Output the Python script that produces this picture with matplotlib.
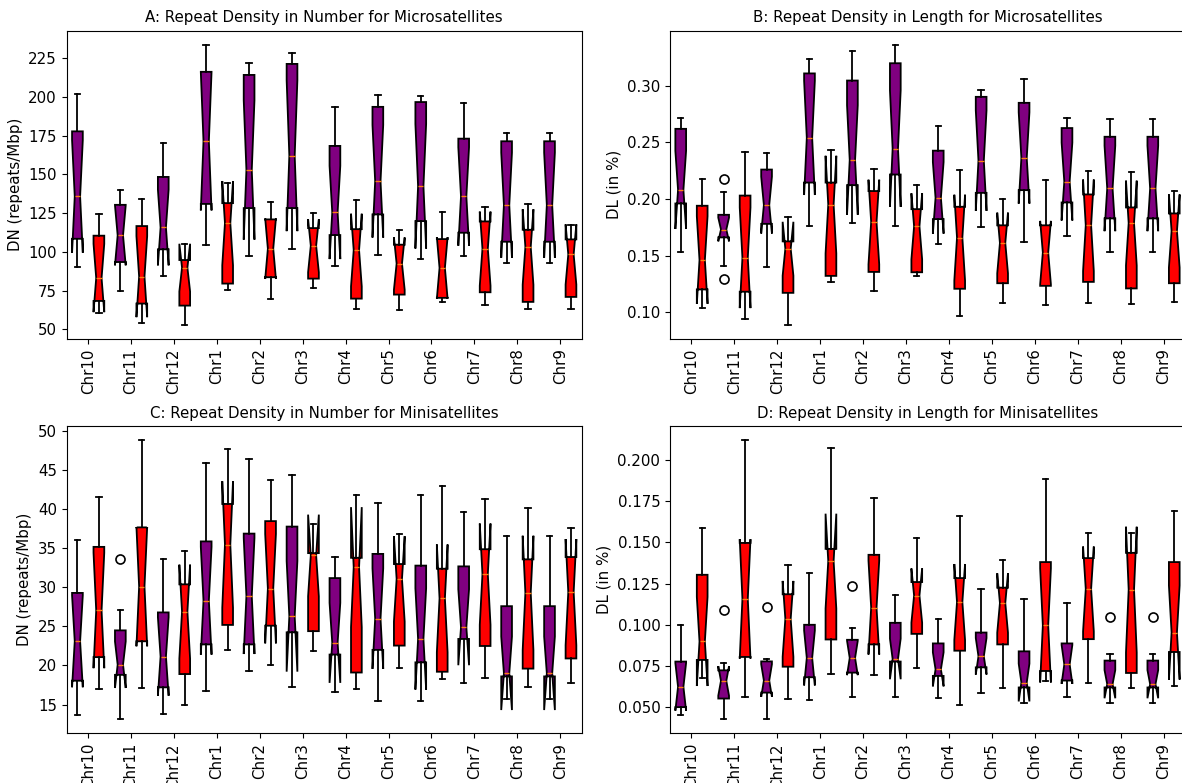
import numpy as np
import matplotlib
matplotlib.use("Agg")
import matplotlib.pyplot as plt

plt.rcParams["font.size"] = 10.8

chroms = ["Chr10", "Chr11", "Chr12", "Chr1", "Chr2", "Chr3",
          "Chr4", "Chr5", "Chr6", "Chr7", "Chr8", "Chr9"]

# sample size behind each box (used for the notch width, as matplotlib does)
n_obs = 9

# each row: (whislo, q1, med, q3, whishi)
a_purple = [(90.3, 108.5, 135.8, 177.8, 201.8), (74.7, 93.5, 110.7, 130.4, 140.1),
            (84.3, 101.7, 115.8, 148.4, 170.1), (104.2, 131.0, 171.4, 216.2, 233.7),
            (97.4, 128.3, 152.9, 214.2, 222.0), (102.1, 128.3, 162.1, 221.3, 228.2),
            (91.0, 110.9, 125.5, 168.4, 193.2), (98.2, 124.2, 145.6, 193.6, 201.2),
            (95.5, 119.9, 142.4, 196.7, 200.3), (97.4, 112.4, 135.8, 173.1, 196.0),
            (92.7, 106.6, 130.2, 171.4, 176.5), (92.7, 106.6, 130.2, 171.4, 176.5)]
a_red = [(60.9, 68.4, 83.2, 110.5, 124.6), (54.3, 66.7, 84.1, 116.7, 134.0),
         (53.2, 65.4, 89.9, 94.8, 104.9), (75.3, 79.6, 118.6, 131.5, 144.3),
         (69.5, 83.7, 102.1, 121.0, 132.1), (77.0, 82.8, 104.0, 115.4, 125.0),
         (62.9, 69.9, 101.2, 114.7, 133.8), (62.4, 72.5, 92.5, 104.7, 114.3),
         (67.8, 70.4, 89.7, 108.3, 125.9), (65.6, 74.0, 102.1, 119.7, 128.9),
         (62.9, 67.8, 103.2, 114.3, 131.0), (63.1, 71.0, 98.4, 108.1, 117.7)]

b_purple = [(0.153, 0.196, 0.208, 0.262, 0.272), (0.141, 0.166, 0.173, 0.186, 0.206),
            (0.1397, 0.178, 0.1946, 0.226, 0.241), (0.1758, 0.2145, 0.254, 0.311, 0.324),
            (0.179, 0.2122, 0.2345, 0.3047, 0.331), (0.1764, 0.2216, 0.2445, 0.320, 0.3364),
            (0.160, 0.1822, 0.201, 0.2427, 0.2648), (0.1749, 0.2054, 0.2339, 0.2903, 0.2962),
            (0.162, 0.2078, 0.2363, 0.285, 0.3059), (0.167, 0.1969, 0.2154, 0.2627, 0.2712),
            (0.1535, 0.1828, 0.2093, 0.255, 0.2706), (0.1535, 0.1828, 0.2093, 0.255, 0.2706)]
b_red = [(0.104, 0.120, 0.146, 0.194, 0.218), (0.0935, 0.118, 0.148, 0.203, 0.2415),
         (0.089, 0.117, 0.156, 0.1625, 0.184), (0.127, 0.132, 0.195, 0.2145, 0.2433),
         (0.1188, 0.1355, 0.1796, 0.207, 0.2263), (0.1323, 0.1352, 0.1758, 0.191, 0.2122),
         (0.0965, 0.1206, 0.1658, 0.1931, 0.2257), (0.1076, 0.1255, 0.1611, 0.1767, 0.2004),
         (0.1065, 0.1232, 0.1526, 0.1767, 0.2166), (0.1076, 0.1267, 0.1767, 0.204, 0.2251),
         (0.1068, 0.1209, 0.1787, 0.1925, 0.2236), (0.1091, 0.1255, 0.1717, 0.1872, 0.2066)]
b_purple_fliers = {1: [0.2175, 0.129]}

c_purple = [(13.6, 18.05, 23.1, 29.3, 36.1), (13.1, 18.8, 20.1, 24.5, 27.1),
            (13.8, 17.2, 21.15, 26.8, 33.6), (16.7, 22.7, 28.3, 35.9, 45.9),
            (19.3, 22.7, 28.9, 36.9, 46.5), (17.2, 24.25, 26.3, 37.8, 44.4),
            (16.6, 21.4, 22.9, 31.2, 33.9), (15.5, 22.0, 26.0, 34.3, 40.8),
            (15.5, 20.4, 23.4, 32.8, 41.8), (17.8, 23.4, 24.9, 32.7, 39.7),
            (15.7, 18.6, 19.0, 27.6, 36.6), (15.7, 18.6, 19.0, 27.6, 36.6)]
c_red = [(17.04, 21.07, 27.05, 35.2, 41.6), (17.1, 23.1, 30.1, 37.7, 48.9),
         (15.0, 18.9, 26.9, 30.4, 34.7), (22.0, 25.2, 35.5, 40.7, 47.8),
         (20.0, 25.1, 29.85, 38.5, 43.8), (21.8, 24.4, 34.1, 34.4, 38.1),
         (17.0, 19.1, 32.6, 33.8, 41.9), (19.7, 22.55, 31.1, 33.0, 36.8),
         (18.3, 19.2, 28.6, 32.4, 43.0), (18.4, 22.5, 31.7, 34.9, 41.3),
         (17.2, 19.6, 29.3, 33.6, 40.2), (17.7, 20.9, 29.4, 33.9, 37.65)]
c_purple_fliers = {1: [33.6]}

d_purple = [(0.0456, 0.0502, 0.0625, 0.0778, 0.0999), (0.0432, 0.0554, 0.0661, 0.0725, 0.0767),
            (0.0428, 0.059, 0.0663, 0.0779, 0.0792), (0.0546, 0.0683, 0.080, 0.1001, 0.1312),
            (0.0564, 0.0711, 0.080, 0.091, 0.0979), (0.0566, 0.0778, 0.0794, 0.1013, 0.1182),
            (0.0556, 0.0691, 0.0731, 0.0888, 0.1039), (0.0586, 0.0743, 0.081, 0.0954, 0.122),
            (0.0526, 0.0621, 0.0651, 0.084, 0.1158), (0.0566, 0.0663, 0.0761, 0.0888, 0.1133),
            (0.0526, 0.0621, 0.0641, 0.0784, 0.0824), (0.0526, 0.0621, 0.0641, 0.0784, 0.0824)]
d_red = [(0.0681, 0.0788, 0.090, 0.1304, 0.1586), (0.0566, 0.0806, 0.1158, 0.1497, 0.2121),
         (0.0552, 0.0747, 0.1037, 0.1186, 0.1365), (0.0701, 0.0912, 0.1387, 0.1461, 0.2075),
         (0.0697, 0.0882, 0.1105, 0.1425, 0.1769), (0.0737, 0.0946, 0.1178, 0.126, 0.1528),
         (0.0512, 0.0844, 0.1139, 0.1284, 0.1658), (0.0617, 0.0882, 0.1133, 0.1226, 0.1393),
         (0.0661, 0.0721, 0.0997, 0.1381, 0.1885), (0.0647, 0.0914, 0.1218, 0.1405, 0.156),
         (0.0617, 0.0709, 0.1214, 0.1437, 0.1558), (0.0631, 0.0836, 0.0954, 0.1381, 0.1692)]
d_purple_fliers = {1: [0.1091], 2: [0.1111], 4: [0.1236], 10: [0.1047], 11: [0.1047]}


def make_stats(rows, fliers=None):
    fliers = fliers or {}
    stats = []
    for i, (lo, q1, med, q3, hi) in enumerate(rows):
        half = 1.57 * (q3 - q1) / np.sqrt(n_obs)
        stats.append(dict(whislo=lo, q1=q1, med=med, q3=q3, whishi=hi,
                          cilo=med - half, cihi=med + half,
                          fliers=fliers.get(i, [])))
    return stats


def draw_panel(ax, purple_rows, red_rows, title, ylabel, purple_fliers=None):
    ticks = np.arange(len(chroms)) * 2.0
    for rows, fl, offset, color in [(purple_rows, purple_fliers, -0.5, "purple"),
                                    (red_rows, None, 0.5, "red")]:
        ax.bxp(make_stats(rows, fl), positions=ticks + offset, widths=0.5,
               shownotches=True, patch_artist=True, manage_ticks=False,
               boxprops=dict(facecolor=color, edgecolor="black", linewidth=1.3),
               whiskerprops=dict(linewidth=1.3), capprops=dict(linewidth=1.3),
               flierprops=dict(markersize=6.5, markeredgewidth=1.2))
    ax.set_xticks(ticks)
    ax.set_xticklabels(chroms, rotation=90)
    ax.set_xlim(-1, 23)
    ax.set_title(title, fontsize=10.8)
    ax.set_ylabel(ylabel)


W, H = 1182, 783
fig = plt.figure(figsize=(W / 100, H / 100), dpi=100)


def rect(left, top, width, height):
    return [left / W, (H - top - height) / H, width / W, height / H]


ax_a = fig.add_axes(rect(66.7, 30.7, 515, 307.8))
ax_b = fig.add_axes(rect(670, 30.7, 515, 307.8))
ax_c = fig.add_axes(rect(66.7, 426, 515, 307.3))
ax_d = fig.add_axes(rect(670, 426, 515, 307.3))

draw_panel(ax_a, a_purple, a_red, "A: Repeat Density in Number for Microsatellites",
           "DN (repeats/Mbp)")
draw_panel(ax_b, b_purple, b_red, "B: Repeat Density in Length for Microsatellites",
           "DL (in %)", b_purple_fliers)
draw_panel(ax_c, c_purple, c_red, "C: Repeat Density in Number for Minisatellites",
           "DN (repeats/Mbp)", c_purple_fliers)
draw_panel(ax_d, d_purple, d_red, "D: Repeat Density in Length for Minisatellites",
           "DL (in %)", d_purple_fliers)

fig.savefig("out.png", dpi=100)
